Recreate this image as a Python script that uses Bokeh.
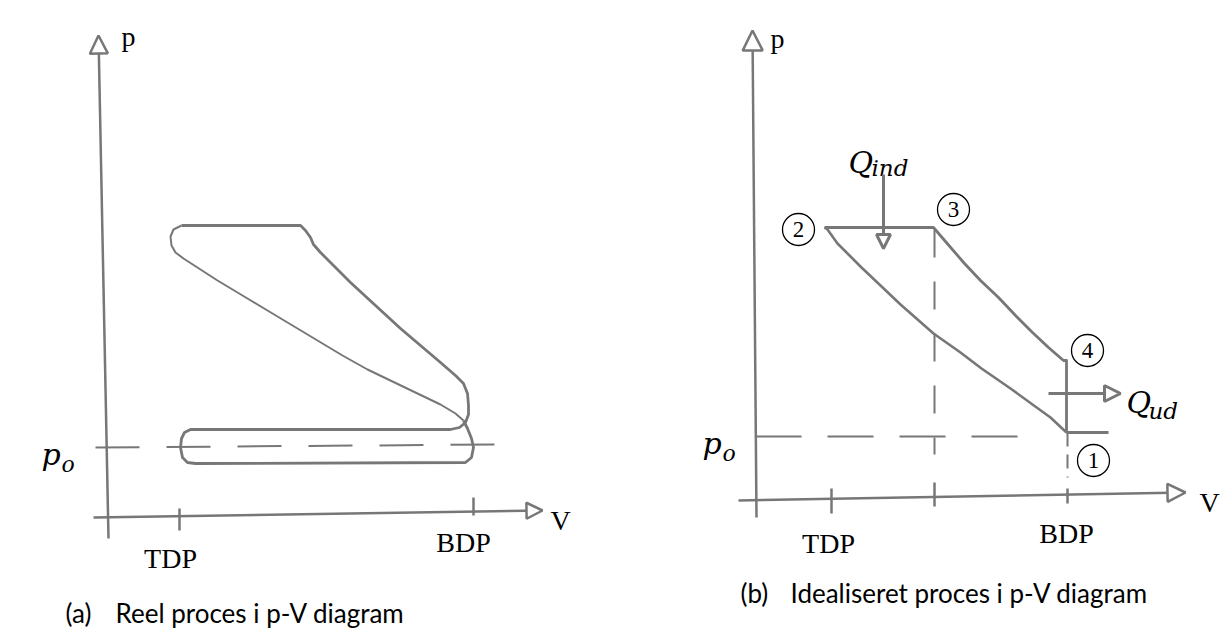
from bokeh.plotting import figure
from bokeh.layouts import row
from bokeh.models import Range1d, Arrow, NormalHead
from bokeh.core.properties import value
from bokeh.embed import file_html
from bokeh.resources import INLINE

INK = "#777777"
SERIF = "Liberation Serif"
MATH = "DejaVu Serif"
SANS = "Lato"

# ---------------- Panel (a): real process (V, p in arbitrary units) ----------------
a_cycle_V = [7.3, 19.2, 19.7, 20.2, 20.5, 21.2, 22.7, 24.2, 26.7, 29.2, 31.2, 33.2, 34.7, 35.5,
             35.9, 36.0, 36.0, 35.7, 35.1, 34.2, 8.2, 7.6, 7.3, 7.2, 7.4, 7.9, 8.7, 35.7, 36.3,
             36.5, 36.3, 35.9, 35.5]
a_cycle_p = [29.2, 29.2, 28.7, 28.0, 27.3, 26.5, 25.0, 23.5, 21.2, 18.9, 17.2, 15.5, 14.2, 13.4,
             12.4, 11.2, 10.3, 9.5, 9.0, 8.8, 8.8, 8.5, 7.9, 7.0, 6.0, 5.5, 5.4, 5.5, 6.0,
             7.0, 7.9, 8.9, 9.7]
a_comp_V = [35.5, 34.7, 33.2, 30.9, 28.4, 25.9, 23.4, 20.9, 18.4, 15.9, 13.4, 10.9, 9.2, 7.5,
            6.7, 6.3, 6.2, 6.5, 7.3]
a_comp_p = [9.7, 10.4, 11.3, 12.4, 13.6, 14.8, 16.2, 17.7, 19.2, 20.7, 22.2, 23.7, 24.8, 25.9,
            26.5, 27.2, 28.1, 28.8, 29.2]
a_po_V = [-1.3, 39.0]
a_po_p = [7.0, 7.3]
a_yaxis = dict(V0=0.0, p0=-2.1, V1=-1.0, p1=48.2)
a_xaxis = dict(V0=-1.5, p0=0.0, V1=43.4, p1=0.7)
a_tick_V = [[7.1, 7.1], [36.5, 36.5]]
a_tick_p = [[0.9, -1.3], [2.0, 0.2]]
a_label_text = ["p", "V", "TDP", "BDP"]
a_label_V = [2.0, 45.2, 6.2, 35.5]
a_label_p = [48.1, -0.3, -4.1, -2.5]

# ---------------- Panel (b): idealised process ----------------
b_exp_V = [6.9, 17.8, 19.0, 20.9, 22.5, 24.3, 26.0, 27.7, 29.3, 30.8, 31.1, 31.1]
b_exp_p = [27.3, 27.3, 25.9, 23.7, 22.0, 20.3, 18.5, 16.8, 15.3, 14.0, 14.0, 6.8]
b_comp_V = [31.1, 29.5, 27.7, 25.5, 22.6, 20.5, 17.8, 14.5, 12.5, 10.6, 9.5, 8.2, 7.2, 6.9]
b_comp_p = [6.8, 8.3, 9.6, 11.2, 13.2, 14.8, 16.7, 19.6, 21.5, 23.3, 24.4, 25.7, 27.1, 27.3]
b_pt1_V = [31.1, 35.3]
b_pt1_p = [6.8, 6.8]
b_po_V = [0.0, 28.5]
b_po_p = [6.4, 6.4]
b_v3_V = [17.9, 17.9]
b_v3_p = [27.1, 4.6]
b_v1_V = [31.2, 31.2]
b_v1_p = [6.8, 2.3]
b_yaxis = dict(V0=0.1, p0=-1.7, V1=-0.3, p1=47.0)
b_xaxis = dict(V0=-1.7, p0=0.0, V1=43.0, p1=0.8)
b_tick_V = [[7.6, 7.6], [17.9, 17.9], [31.2, 31.2]]
b_tick_p = [[1.2, -1.3], [1.8, -0.6], [1.2, -0.3]]
b_label_text = ["p", "V", "TDP", "BDP"]
b_label_V = [2.2, 45.4, 7.3, 31.1]
b_label_p = [46.2, -0.2, -4.3, -3.3]
b_state_text = ["1", "2", "3", "4"]
b_state_V = [33.8, 4.3, 19.8, 33.2]
b_state_p = [4.0, 27.1, 29.1, 15.0]
b_qin = dict(V0=12.8, p0=32.6, V1=12.8, p1=25.2)
b_qout = dict(V0=29.3, p0=10.7, V1=36.5, p1=10.7)


def make_fig(xr, yr, w):
    f = figure(width=w, height=638, x_range=Range1d(*xr), y_range=Range1d(*yr),
               output_backend="svg", toolbar_location=None,
               x_axis_location=None, y_axis_location=None, min_border=0)
    f.min_border_left = f.min_border_right = f.min_border_top = f.min_border_bottom = 0
    f.grid.visible = False
    f.outline_line_color = None
    f.background_fill_color = "white"
    f.border_fill_color = "white"
    return f


def axis_arrow(f, d, size, lw=2.5):
    f.add_layout(Arrow(x_start=d["V0"], y_start=d["p0"], x_end=d["V1"], y_end=d["p1"],
                       line_color=INK, line_width=lw,
                       end=NormalHead(size=size, fill_color="white", line_color=INK, line_width=lw)))


def labels(f, xs, ys, txt, size="28px", font=SERIF, style="normal", align="center",
           baseline="alphabetic", color="black"):
    f.text(x=xs, y=ys, text=txt, text_font=value(font), text_font_size=size,
           text_font_style=style, text_align=align, text_baseline=baseline, text_color=color)


# ---------- figure (a) ----------
fa = make_fig((-10.8, 50.4), (-12.1, 51.7), 612)
fa.line(a_po_V, a_po_p, line_color=INK, line_width=2, line_dash="44 27")
fa.line(a_cycle_V, a_cycle_p, line_color=INK, line_width=2.8, line_join="round")
fa.line(a_comp_V, a_comp_p, line_color=INK, line_width=2.0, line_join="round")
axis_arrow(fa, a_yaxis, 18)
axis_arrow(fa, a_xaxis, 16)
fa.multi_line(a_tick_V, a_tick_p, line_color=INK, line_width=2.5)
labels(fa, a_label_V, a_label_p, a_label_text)
labels(fa, [-6.7], [6.3], ["p"], size="30px", font=MATH, style="italic", align="left")
labels(fa, [-4.7], [5.3], ["o"], size="22px", font=MATH, style="italic", align="left")
labels(fa, [-4.3], [-9.5], ["(a)"], size="26px", font=SANS, align="left", baseline="middle")
labels(fa, [0.7], [-9.5], ["Reel proces i p-V diagram"], size="26px", font=SANS,
       align="left", baseline="middle")

# ---------- figure (b) ----------
fb = make_fig((-14.3, 46.9), (-13.8, 50.0), 612)
fb.line(b_po_V, b_po_p, line_color=INK, line_width=2, line_dash="46 26")
fb.line(b_v3_V, b_v3_p, line_color=INK, line_width=2, line_dash="28 24")
fb.line(b_v1_V, b_v1_p, line_color=INK, line_width=2, line_dash="14 8")
fb.line(b_exp_V, b_exp_p, line_color=INK, line_width=2.8, line_join="round")
fb.line(b_comp_V, b_comp_p, line_color=INK, line_width=2.6, line_join="round")
fb.line(b_pt1_V, b_pt1_p, line_color=INK, line_width=2.8)
axis_arrow(fb, b_yaxis, 20)
axis_arrow(fb, b_xaxis, 18)
fb.multi_line(b_tick_V, b_tick_p, line_color=INK, line_width=2.5)
axis_arrow(fb, b_qin, 14, lw=3)
axis_arrow(fb, b_qout, 16, lw=3)
fb.circle(b_state_V, b_state_p, radius=1.6, fill_color="white", line_color="black", line_width=1.3)
labels(fb, b_state_V, b_state_p, b_state_text, size="23px", baseline="middle")
labels(fb, b_label_V, b_label_p, b_label_text)
labels(fb, [-5.3], [5.7], ["p"], size="30px", font=MATH, style="italic", align="left")
labels(fb, [-3.3], [4.7], ["o"], size="22px", font=MATH, style="italic", align="left")
labels(fb, [9.3], [33.8], ["Q"], size="30px", font=MATH, style="italic", align="left")
labels(fb, [11.6], [33.3], ["ind"], size="23px", font=MATH, style="italic", align="left")
labels(fb, [37.1], [9.8], ["Q"], size="30px", font=MATH, style="italic", align="left")
labels(fb, [39.3], [9.0], ["ud"], size="23px", font=MATH, style="italic", align="left")
labels(fb, [-1.5], [-9.2], ["(b)"], size="26px", font=SANS, align="left", baseline="middle")
labels(fb, [3.5], [-9.2], ["Idealiseret proces i p-V diagram"], size="26px", font=SANS,
       align="left", baseline="middle")

layout = row(fa, fb, spacing=0)
open("out.html", "w").write(file_html(layout, INLINE))
